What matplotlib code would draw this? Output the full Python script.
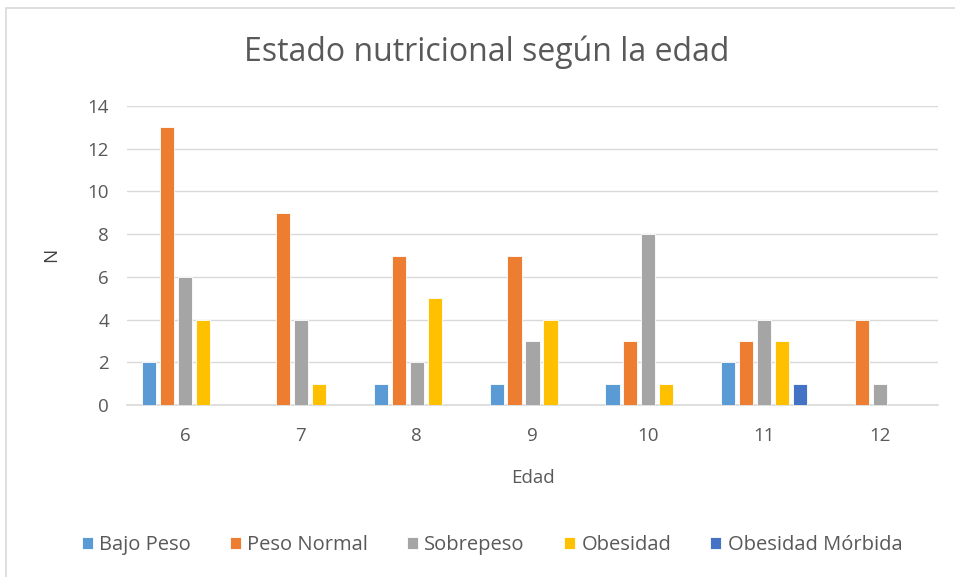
import matplotlib
matplotlib.use('Agg')
import matplotlib.pyplot as plt
import numpy as np
from matplotlib.patches import Rectangle

# datos
edades = ['6', '7', '8', '9', '10', '11', '12']
series = ['Bajo Peso', 'Peso Normal', 'Sobrepeso', 'Obesidad', 'Obesidad Mórbida']
bajo_peso = [2, 0, 1, 1, 1, 2, 0]
peso_normal = [13, 9, 7, 7, 3, 3, 4]
sobrepeso = [6, 4, 2, 3, 8, 4, 1]
obesidad = [4, 1, 5, 4, 1, 3, 0]
obesidad_morbida = [0, 0, 0, 0, 0, 1, 0]
valores = [bajo_peso, peso_normal, sobrepeso, obesidad, obesidad_morbida]
colores = ['#5B9BD5', '#ED7D31', '#A5A5A5', '#FFC000', '#4472C4']

TXT = '#595959'
GRID = '#D9D9D9'
plt.rcParams['font.family'] = ['Open Sans', 'DejaVu Sans']

W, H = 955, 577
fig = plt.figure(figsize=(W / 100, H / 100), dpi=100)
fig.patch.set_facecolor('white')
ax = fig.add_axes([127 / W, 1 - 405 / H, (938 - 127) / W, (405 - 106) / H])

# borde del gráfico
fig.add_artist(Rectangle((6 / W, -0.05), 1.2, 1 - 8 / H + 0.05,
                         transform=fig.transFigure, fill=False,
                         edgecolor=GRID, linewidth=1.2))

x = np.arange(len(edades))
paso = 0.155
ancho = 0.122
for i, (nombre, vals, c) in enumerate(zip(series, valores, colores)):
    ax.bar(x + (i - 2) * paso, vals, width=ancho, color=c, label=nombre,
           edgecolor='white', linewidth=0.6, zorder=3)

ax.set_xlim(-0.5, len(edades) - 0.5)
ax.set_ylim(0, 14)
ax.set_yticks(range(0, 15, 2))
ax.set_xticks(x)
ax.set_xticklabels(edades)
ax.grid(axis='y', color=GRID, linewidth=1, zorder=0)
for s in ['top', 'right', 'left']:
    ax.spines[s].set_visible(False)
ax.spines['bottom'].set_color(GRID)
ax.spines['bottom'].set_linewidth(1.2)
ax.tick_params(length=0, labelsize=13.5, colors=TXT)
ax.tick_params(axis='y', pad=13)
ax.tick_params(axis='x', pad=16)

fig.text(487 / W, 1 - 52 / H, 'Estado nutricional según la edad',
         fontsize=23, color=TXT, ha='center', va='center')
ax.set_xlabel('Edad', fontsize=13.5, color=TXT, labelpad=17)
ax.set_ylabel('N', fontsize=13.5, color='#404040', labelpad=14)
ax.yaxis.set_label_coords(60 / W, 1 - 255 / H, transform=fig.transFigure)

fig.legend(loc='center', bbox_to_anchor=(492 / W, 1 - 545 / H), ncol=5,
           frameon=False, fontsize=14.5, labelcolor=TXT, handlelength=0.55,
           handleheight=0.55, handletextpad=0.3, columnspacing=1.95)

fig.savefig('out.png', dpi=100, facecolor='white')
